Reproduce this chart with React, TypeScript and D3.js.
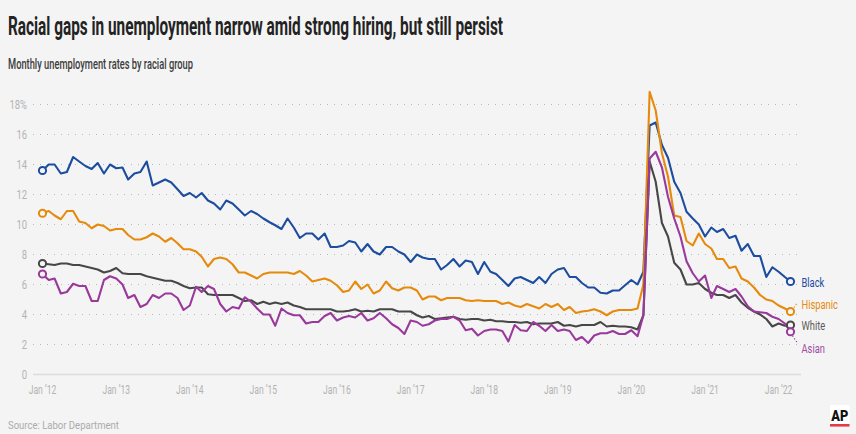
import React from "react";
import * as d3 from "d3";

const startYear = 2012;
const monthCount = 123; // Jan 2012 .. Mar 2022

const seriesNames = ["Black", "Hispanic", "White", "Asian"];

const black = [
  13.6, 14.0, 14.0, 13.4, 13.5, 14.5, 14.2, 13.9, 13.7, 14.1, 13.4, 14.0,
  13.75, 13.8, 13.0, 13.4, 13.5, 14.2, 12.6, 12.8, 13.0, 12.8, 12.35, 11.9,
  12.1, 11.8, 12.1, 11.6, 11.4, 11.0, 11.6, 11.4, 11.0, 10.6, 10.9, 10.7,
  10.4, 10.15, 9.95, 9.7, 10.4, 9.8, 9.1, 9.4, 9.4, 9.0, 9.4, 8.5,
  8.5, 8.6, 8.9, 8.8, 8.2, 8.7, 8.2, 8.0, 8.5, 8.5, 8.2, 8.0,
  7.5, 8.0, 7.8, 7.7, 7.7, 7.0, 7.3, 7.7, 7.2, 7.6, 7.5, 6.7,
  7.5, 6.85, 6.7, 6.3, 5.9, 6.4, 6.5, 6.3, 6.1, 6.5, 6.1, 6.7,
  7.0, 7.1, 6.5, 6.5, 6.1, 5.8, 5.8, 5.45, 5.4, 5.6, 5.6, 5.95,
  6.3, 6.0, 6.85, 16.6, 16.8, 15.3, 14.45, 12.85, 12.1, 10.85, 10.4, 10.0,
  9.2, 9.8, 9.5, 9.7, 9.1, 9.25, 8.25, 8.7, 7.9, 7.9, 6.5, 7.15,
  6.85, 6.5, 6.2,
];

const hispanic = [
  10.75, 10.9, 10.6, 10.35, 10.9, 10.9, 10.2, 10.1, 9.75, 10.0, 9.9, 9.6,
  9.7, 9.7, 9.3, 9.0, 9.0, 9.15, 9.4, 9.2, 8.85, 9.1, 8.75, 8.35,
  8.35, 8.2, 7.85, 7.2, 7.7, 7.8, 7.7, 7.35, 6.8, 6.8, 6.6, 6.4,
  6.7, 6.8, 6.8, 6.8, 6.8, 6.7, 6.9, 6.6, 6.2, 6.3, 6.4, 6.25,
  5.95, 5.5, 5.6, 6.2, 5.7, 6.0, 5.4, 5.6, 6.2, 5.75, 5.6, 5.8,
  5.8, 5.6, 5.0, 5.2, 5.2, 4.95, 5.1, 5.1, 5.1, 4.95, 4.9, 4.95,
  4.9, 4.9, 4.9, 4.7, 4.8, 4.6, 4.5, 4.7, 4.55, 4.4, 4.7, 4.5,
  4.7, 4.3, 4.5, 4.1, 4.2, 4.25, 4.35, 4.2, 3.95, 4.2, 4.3, 4.3,
  4.3, 4.4, 6.0, 18.85, 17.6, 14.75, 13.2, 10.6, 10.5, 8.9, 8.6, 9.4,
  8.7, 8.4, 7.7, 7.7, 7.1, 7.2, 6.4, 6.2, 5.8, 5.3, 5.0, 4.9,
  4.6, 4.4, 4.2,
];

const white = [
  7.4, 7.35, 7.3, 7.4, 7.4, 7.3, 7.3, 7.2, 7.1, 7.0, 6.8, 6.9,
  7.1, 6.75, 6.7, 6.7, 6.7, 6.55, 6.45, 6.35, 6.25, 6.25, 6.1, 5.9,
  5.75, 5.8, 5.8, 5.35, 5.3, 5.3, 5.3, 5.3, 5.1, 4.9, 4.95, 4.7,
  4.85, 4.7, 4.8, 4.7, 4.8, 4.6, 4.5, 4.35, 4.35, 4.35, 4.35, 4.35,
  4.2, 4.2, 4.25, 4.35, 4.2, 4.25, 4.2, 4.35, 4.35, 4.35, 4.2, 4.2,
  4.2, 3.95, 3.8, 3.9, 3.7, 3.75, 3.8, 3.85, 3.7, 3.65, 3.7, 3.7,
  3.6, 3.65, 3.55, 3.55, 3.5, 3.5, 3.45, 3.5, 3.35, 3.4, 3.4, 3.4,
  3.5, 3.25, 3.3, 3.2, 3.3, 3.3, 3.3, 3.5, 3.2, 3.25, 3.2, 3.2,
  3.15, 3.0, 3.95, 14.2, 12.85, 10.1, 9.2, 7.45, 7.0, 6.0, 6.0, 6.1,
  5.7, 5.45, 5.3, 5.3, 5.1, 5.3, 4.8, 4.45, 4.2, 4.0, 3.7, 3.2,
  3.4, 3.25, 3.3,
];

const asian = [
  6.7, 6.3, 6.4, 5.4, 5.5, 6.05, 5.9, 5.9, 4.9, 4.9, 6.3, 6.55,
  6.4, 6.0, 5.1, 5.3, 4.5, 4.7, 5.3, 5.1, 5.4, 5.4, 5.1, 4.3,
  4.6, 5.85, 5.5, 5.9, 5.7, 4.7, 4.2, 4.5, 4.4, 5.15, 4.85, 4.4,
  4.0, 4.0, 3.25, 4.4, 4.1, 3.95, 3.95, 3.4, 3.5, 3.5, 3.9, 4.1,
  3.6, 3.8, 3.9, 3.8, 4.1, 3.6, 3.75, 4.1, 3.75, 3.35, 3.1, 2.7,
  3.6, 3.5, 3.25, 3.35, 3.6, 3.7, 3.7, 3.85, 3.6, 2.95, 3.05, 2.6,
  2.9, 3.0, 3.0, 2.9, 2.2, 3.3, 2.95, 2.9, 3.5, 3.25, 2.9, 3.3,
  2.9, 3.0, 2.9, 2.3, 2.5, 2.1, 2.6, 2.75, 2.75, 2.9, 2.7, 2.7,
  2.95, 2.55, 3.95, 14.4, 14.85, 13.8, 11.85, 10.4, 9.2, 7.55, 6.75, 6.2,
  6.6, 5.1, 5.9, 5.7, 5.5, 5.7, 5.2, 4.55, 4.2, 4.15, 4.1, 3.85,
  3.7, 3.4, 2.85,
];

const yTicks = [0, 2, 4, 6, 8, 10, 12, 14, 16, 18];
const xTickYears = [2012, 2013, 2014, 2015, 2016, 2017, 2018, 2019, 2020, 2021, 2022];

const title = "Racial gaps in unemployment narrow amid strong hiring, but still persist";
const subtitle = "Monthly unemployment rates by racial group";
const source = "Source: Labor Department";

const colors: Record<string, string> = {
  Black: "#1c4d9f",
  Hispanic: "#e68a0c",
  White: "#474747",
  Asian: "#9a399c",
};
const labelColors: Record<string, string> = {
  Black: "#1c4d9f",
  Hispanic: "#e68a0c",
  White: "#5a5a5a",
  Asian: "#a04ca2",
};

const W = 856;
const H = 434;
const BG = "#f4f4f4";
const FONT = "Roboto, 'Noto Sans', sans-serif";

export default function App() {
  const dates = d3.range(monthCount).map((i) => new Date(startYear, i, 1));
  const x = d3
    .scaleTime()
    .domain([dates[0], dates[dates.length - 1]])
    .range([42.5, 790.5]);
  const y = d3.scaleLinear().domain([0, 18]).range([374.5, 104.5]);

  const dataMap: Record<string, number[]> = {
    Black: black,
    Hispanic: hispanic,
    White: white,
    Asian: asian,
  };

  const line = d3
    .line<number>()
    .x((_, i) => x(dates[i]))
    .y((v) => y(v));

  const gridX0 = 33;
  const gridX1 = 801;

  const legendY: Record<string, number> = {
    Black: 287,
    Hispanic: 308.5,
    White: 330,
    Asian: 352.7,
  };

  const last = dates.length - 1;

  return (
    <div style={{ position: "absolute", left: 0, top: 0, width: W, height: H, background: BG }}>
      <svg width={W} height={H} style={{ display: "block" }} fontFamily={FONT}>
        <rect x={0} y={0} width={W} height={H} fill={BG} />
        <text
          x={8}
          y={35}
          fontSize={25}
          fontWeight={700}
          fill="#232323"
          textLength={495}
          lengthAdjust="spacingAndGlyphs"
        >
          {title}
        </text>
        <text
          x={8}
          y={69}
          fontSize={14}
          fontWeight={500}
          fill="#3c3c3c"
          textLength={185}
          lengthAdjust="spacingAndGlyphs"
        >
          {subtitle}
        </text>

        {/* gridlines */}
        {yTicks.map((t) =>
          t === 0 ? (
            <line
              key={t}
              x1={gridX0}
              x2={gridX1}
              y1={y(t)}
              y2={y(t)}
              stroke="#dcdcdc"
              strokeWidth={1.5}
            />
          ) : (
            <line
              key={t}
              x1={gridX0}
              x2={gridX1}
              y1={y(t)}
              y2={y(t)}
              stroke="#b8b8b8"
              strokeWidth={1}
              strokeDasharray="1 6"
            />
          )
        )}
        {yTicks.map((t) => (
          <text
            key={"yl" + t}
            transform={`translate(27,${y(t) + 4.6}) scale(0.7,1)`}
            textAnchor="end"
            fontSize={13.5}
            fill="#b3b3b3"
          >
            {t === 18 ? "18%" : String(t)}
          </text>
        ))}
        {xTickYears.map((yr) => (
          <text
            key={"xl" + yr}
            transform={`translate(${x(new Date(yr, 0, 1))},394) scale(0.66,1)`}
            textAnchor="middle"
            fontSize={13}
            fill="#b3b3b3"
          >
            {"Jan \u2019" + String(yr).slice(2)}
          </text>
        ))}

        {/* leader lines */}
        <line
          x1={794}
          y1={y(hispanic[last]) - 4}
          x2={797.5}
          y2={y(hispanic[last]) - 9}
          stroke={colors.Hispanic}
          strokeWidth={1.2}
          strokeDasharray="1.2 2"
        />
        <line
          x1={792.5}
          y1={y(asian[last]) + 4}
          x2={798}
          y2={y(asian[last]) + 12}
          stroke={colors.Asian}
          strokeWidth={1.2}
          strokeDasharray="1.2 2"
        />

        {/* lines */}
        {seriesNames.map((name) => (
          <path
            key={name}
            d={line(dataMap[name]) || ""}
            fill="none"
            stroke={colors[name]}
            strokeWidth={2.1}
            strokeLinejoin="round"
          />
        ))}
        {seriesNames.map((name) => (
          <g key={"c" + name}>
            <circle
              cx={x(dates[0])}
              cy={y(dataMap[name][0])}
              r={3.6}
              fill={BG}
              stroke={colors[name]}
              strokeWidth={2}
            />
            <circle
              cx={x(dates[last])}
              cy={y(dataMap[name][last])}
              r={3.6}
              fill={BG}
              stroke={colors[name]}
              strokeWidth={2}
            />
          </g>
        ))}

        {/* legend labels */}
        {seriesNames.map((name) => (
          <text
            key={"lg" + name}
            transform={`translate(801.5,${legendY[name]}) scale(0.72,1)`}
            fontSize={13}
            fill={labelColors[name]}
          >
            {name}
          </text>
        ))}

        <text
          x={8}
          y={429}
          fontSize={11.5}
          fill="#ababab"
          textLength={111}
          lengthAdjust="spacingAndGlyphs"
        >
          {source}
        </text>

        {/* AP logo */}
        <rect x={830} y={405} width={19.5} height={22} fill="#ffffff" />
        <text
          x={839.7}
          y={420.5}
          fontSize={14}
          fontWeight={900}
          fill="#111"
          textAnchor="middle"
          textLength={17}
          lengthAdjust="spacingAndGlyphs"
        >
          AP
        </text>
        <rect x={830} y={424} width={19.5} height={2.6} fill="#e33a45" />
      </svg>
    </div>
  );
}
